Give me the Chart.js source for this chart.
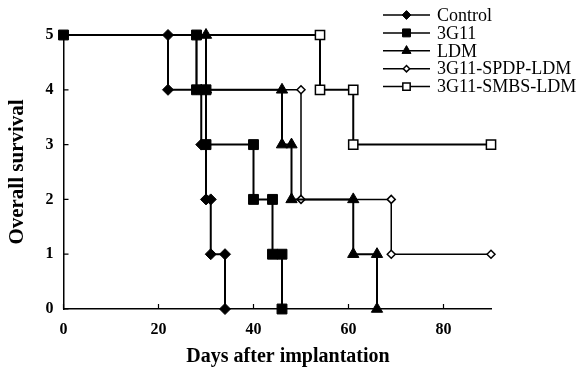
<!DOCTYPE html>
<html lang="en">
<head>
<meta charset="UTF-8">
<title>Overall survival</title>
<script src="https://cdn.jsdelivr.net/npm/chart.js"></script>
<style>
    html, body { margin: 0; padding: 0; background: #fff; }
    #wrap { width: 584px; height: 375px; }
</style>
</head>
<body>
<div id="wrap"><canvas id="survivalChart" width="584" height="375"></canvas></div>
<script>
// series names and axis ticks
const seriesNames = ['Control', '3G11', 'LDM', '3G11-SPDP-LDM', '3G11-SMBS-LDM'];
const xTicks = [0, 20, 40, 60, 80];
const yTicks = [0, 1, 2, 3, 4, 5];
const xTitle = 'Days after implantation';
const yTitle = 'Overall survival';

// step points (days, animals alive)
const controlDays = [0, 22, 22, 29, 29, 30, 30, 31, 31, 34, 34];
const controlSurv = [5, 5, 4, 4, 3, 3, 2, 2, 1, 1, 0];
const g11Days = [0, 28, 28, 30, 30, 40, 40, 44, 44, 46, 46];
const g11Surv = [5, 5, 4, 4, 3, 3, 2, 2, 1, 1, 0];
const ldmDays = [0, 30, 30, 46, 46, 48, 48, 61, 61, 66, 66];
const ldmSurv = [5, 5, 4, 4, 3, 3, 2, 2, 1, 1, 0];
const spdpDays = [0, 28, 28, 50, 50, 69, 69, 90];
const spdpSurv = [5, 5, 4, 4, 2, 2, 1, 1];
const smbsDays = [0, 54, 54, 61, 61, 90];
const smbsSurv = [5, 5, 4, 4, 3, 3];

const serif = '"Liberation Serif", "Times New Roman", serif';

function pts(xs, ys) {
    return xs.map((x, i) => ({ x: x, y: ys[i] }));
}

// marker look per series
const markers = [
    { style: 'rectRot', r: 5.5, fill: '#000', lw: 2, bw: 1 },
    { style: 'rect', r: 7, fill: '#000', lw: 2, bw: 1 },
    { style: 'triangle', r: 6.5, fill: '#000', lw: 2, bw: 1 },
    { style: 'rectRot', r: 4, fill: '#fff', lw: 1.5, bw: 1.5 },
    { style: 'rect', r: 6.5, fill: '#fff', lw: 2, bw: 1.5 }
];

const allData = [
    pts(controlDays, controlSurv),
    pts(g11Days, g11Surv),
    pts(ldmDays, ldmSurv),
    pts(spdpDays, spdpSurv),
    pts(smbsDays, smbsSurv)
];

// draw order: open markers first, 3G11 last so its start square sits on top
const drawOrder = [2, 1, 3, 5, 4];

const datasets = seriesNames.map((name, i) => {
    const m = markers[i];
    return {
        label: name,
        data: allData[i],
        borderColor: '#000',
        borderWidth: m.lw,
        pointStyle: m.style,
        pointBackgroundColor: m.fill,
        pointBorderColor: '#000',
        pointBorderWidth: m.bw,
        pointRadius: ctx => (ctx.dataIndex === 0 && i !== 1) ? 0 : m.r,
        pointHoverRadius: m.r,
        tension: 0,
        clip: false,
        order: drawOrder[i]
    };
});

// small tick marks pointing into the plot
const innerTicks = {
    id: 'innerTicks',
    beforeDatasetsDraw(chart) {
        const ctx = chart.ctx;
        const xs = chart.scales.x, ys = chart.scales.y;
        const a = chart.chartArea;
        ctx.save();
        ctx.strokeStyle = '#000';
        ctx.lineWidth = 1.2;
        ctx.beginPath();
        xTicks.forEach(v => {
            const px = xs.getPixelForValue(v);
            ctx.moveTo(px, a.bottom);
            ctx.lineTo(px, a.bottom - 5);
        });
        yTicks.forEach(v => {
            const py = ys.getPixelForValue(v);
            ctx.moveTo(a.left, py);
            ctx.lineTo(a.left + 5, py);
        });
        ctx.stroke();
        ctx.restore();
    }
};

// x title sits a little right of the plot centre in the original
const xTitlePlugin = {
    id: 'xTitlePlugin',
    afterDraw(chart) {
        const ctx = chart.ctx;
        ctx.save();
        ctx.font = 'bold 20px ' + serif;
        ctx.fillStyle = '#000';
        ctx.textAlign = 'center';
        ctx.textBaseline = 'middle';
        ctx.fillText(xTitle, 288, 357);
        ctx.restore();
    }
};

// legend: line with marker, then the name
const lineLegend = {
    id: 'lineLegend',
    afterDraw(chart) {
        const ctx = chart.ctx;
        const x0 = 383, x1 = 430, tx = 437, top = 15, step = 17.9;
        ctx.save();
        ctx.font = '18px ' + serif;
        ctx.textBaseline = 'middle';
        ctx.fillStyle = '#000';
        seriesNames.forEach((name, i) => {
            const m = markers[i];
            const y = top + i * step;
            ctx.strokeStyle = '#000';
            ctx.lineWidth = 1.5;
            ctx.beginPath();
            ctx.moveTo(x0, y);
            ctx.lineTo(x1, y);
            ctx.stroke();
            ctx.fillStyle = m.fill;
            ctx.lineWidth = m.bw;
            Chart.helpers.drawPoint(ctx, { pointStyle: m.style, radius: m.r * 0.8, rotation: 0, borderWidth: m.bw }, (x0 + x1) / 2, y);
            ctx.fillStyle = '#000';
            ctx.fillText(name, tx, y + 1);
        });
        ctx.restore();
    }
};

new Chart(document.getElementById('survivalChart').getContext('2d'), {
    type: 'line',
    data: { datasets: datasets },
    options: {
        responsive: false,
        animation: false,
        layout: { padding: { top: 35, right: 93, left: 0, bottom: 0 } },
        plugins: {
            legend: { display: false },
            tooltip: { enabled: false }
        },
        scales: {
            x: {
                type: 'linear',
                min: 0,
                max: 90,
                afterFit: s => { s.height = 66; },
                afterBuildTicks: s => { s.ticks = xTicks.map(v => ({ value: v })); },
                grid: { display: false, drawTicks: false },
                border: { display: true, color: '#000', width: 1.5 },
                ticks: { color: '#000', padding: 11, font: { family: serif, size: 16, weight: 'bold' } },
                title: { display: false }
            },
            y: {
                type: 'linear',
                min: 0,
                max: 5,
                afterFit: s => { s.width = 63.5; },
                afterBuildTicks: s => { s.ticks = yTicks.map(v => ({ value: v })); },
                grid: { display: false, drawTicks: false },
                border: { display: true, color: '#000', width: 1.5 },
                ticks: { color: '#000', padding: 10, font: { family: serif, size: 16, weight: 'bold' } },
                title: {
                    display: true,
                    text: yTitle,
                    color: '#000',
                    font: { family: serif, size: 21, weight: 'bold' },
                    padding: { top: 5, bottom: 0 }
                }
            }
        }
    },
    plugins: [innerTicks, xTitlePlugin, lineLegend]
});
</script>
</body>
</html>
